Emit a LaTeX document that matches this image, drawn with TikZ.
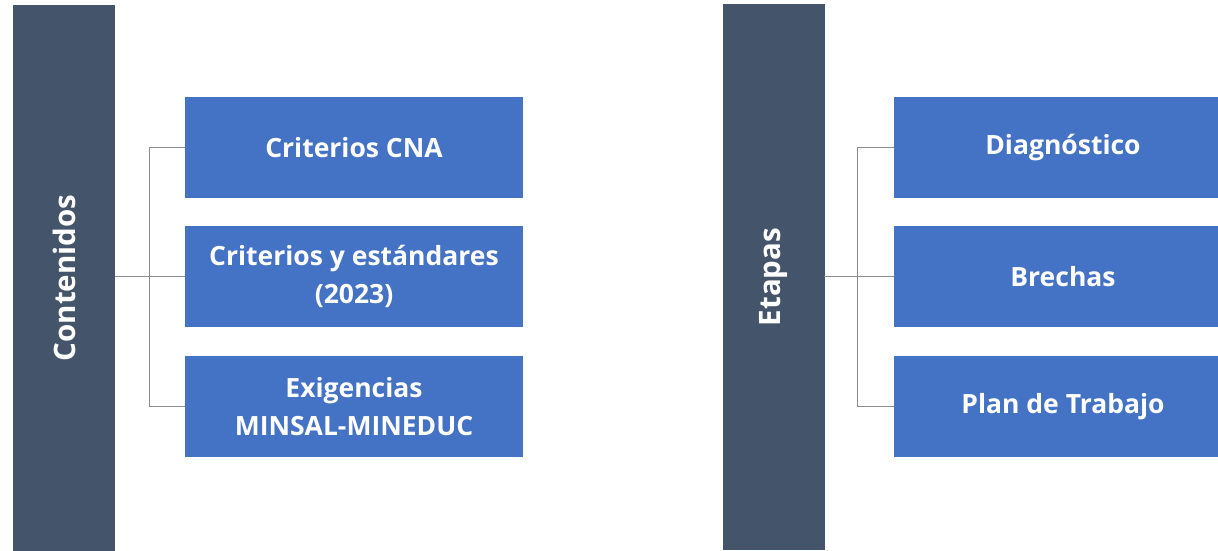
\documentclass[tikz,border=0pt]{standalone}
\usepackage{fontspec}
\setmainfont{Open Sans}
\usetikzlibrary{calc,positioning}
\definecolor{barblue}{HTML}{44546A}
\definecolor{boxblue}{HTML}{4472C4}
\definecolor{linkgray}{HTML}{8C8C8C}
\tikzset{
  bar/.style={fill=barblue,minimum width=102pt,minimum height=546pt,inner sep=0pt,
    text=white,font=\bfseries\fontsize{29.5}{34}\selectfont},
  item/.style={fill=boxblue,minimum width=338pt,minimum height=101pt,inner sep=0pt,
    text=white,align=center,font=\bfseries\fontsize{26.5}{38}\selectfont},
  link/.style={draw=linkgray,line width=0.9pt}
}

\begin{document}
\begin{tikzpicture}[x=1pt,y=-1pt,line cap=rect]
  % view window
  \clip (0,0) rectangle (1218,550);
  \fill[white] (0,0) rectangle (1218,550);

  % left block
  \node[bar] (cont) at (64,278) {\rotatebox{90}{Contenidos}};
  \node[item] (c1) at (354,147.5) {Criterios CNA};
  \node[item,below=28pt of c1] (c2) {Criterios y estándares\\(2023)};
  \node[item,below=28pt of c2] (c3) {Exigencias\\MINSAL-MINEDUC};

  % left connectors
  \draw[link] (cont.east |- c2.west) -- (c2.west);
  \draw[link] (c1.west) -- ++(-35,0) |- (c3.west);

  % right block
  \node[bar] (etap) at (773.5,277) {\rotatebox{90}{Etapas}};
  \node[item] (e1) at (1063,147.5) {Diagnóstico};
  \node[item,below=28pt of e1] (e2) {Brechas};
  \node[item,below=28pt of e2] (e3) {Plan de Trabajo};

  % right connectors
  \draw[link] (etap.east |- e2.west) -- (e2.west);
  \draw[link] (e1.west) -- ++(-36,0) |- (e3.west);
\end{tikzpicture}
\end{document}
